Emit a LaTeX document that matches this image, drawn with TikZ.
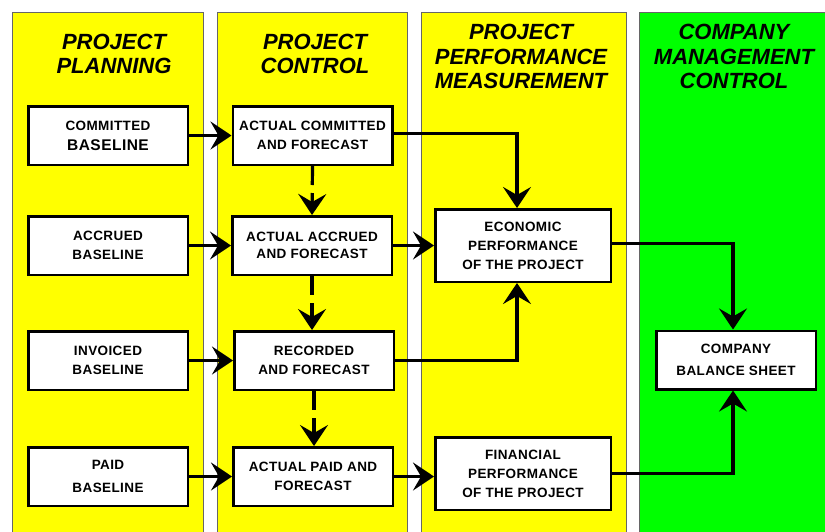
\documentclass[tikz,border=0pt]{standalone}
\usepackage{fontspec}
\setmainfont{Liberation Sans}
\newfontfamily\boxfont[LetterSpace=3]{Liberation Sans}
\usetikzlibrary{arrows.meta}
\definecolor{laneyellow}{RGB}{255,255,0}
\definecolor{lanegreen}{RGB}{0,255,0}
\begin{document}
\begin{tikzpicture}[x=1pt,y=-1pt,
  lane/.style={draw=black!60,line width=0.8pt},
  heading/.style={font=\fontsize{22}{24.5}\selectfont\bfseries\itshape,align=center,inner sep=0pt},
  box/.style={draw=black,line width=2.5pt,fill=white,minimum width=159.5pt,minimum height=58.5pt,
              align=center,inner sep=0pt,font=\boxfont\fontsize{13.5}{19}\selectfont\bfseries},
  widebox/.style={box,minimum width=175.5pt,minimum height=72.5pt},
  flow/.style={line width=3.2pt,-{Stealth[length=21pt,width=28pt,inset=8pt]}},
  dflow/.style={flow,dash pattern=on 19pt off 8pt}]

% page and swim lanes
\clip (0,0) rectangle (825,531);
\fill[white] (0,0) rectangle (825,531);
\filldraw[lane,fill=laneyellow] (12,12) rectangle (203,545);
\filldraw[lane,fill=laneyellow] (217,12) rectangle (407,545);
\filldraw[lane,fill=laneyellow] (421,12) rectangle (626,545);
\filldraw[lane,fill=lanegreen] (639,12) rectangle (840,545);

% lane headings
\node[heading] (h1) at (114,54) {PROJECT\\PLANNING};
\node[heading] (h2) at (315,54) {PROJECT\\CONTROL};
\node[heading] (h3) at (521,56.5) {PROJECT\\PERFORMANCE\\MEASUREMENT};
\node[heading] (h4) at (734,56.5) {COMPANY\\MANAGEMENT\\CONTROL};

% project planning
\node[box] (cb) at (108,135.5) {COMMITTED\\[1pt]{\fontsize{15.5}{19}\selectfont BASELINE}};
\node[box] (ab) at (108,245.5) {ACCRUED\\BASELINE};
\node[box] (ib) at (108,360.5) {INVOICED\\BASELINE};
\node[box,font=\boxfont\fontsize{13.5}{23}\selectfont\bfseries] (pb) at (108,476.5) {PAID\\BASELINE};

% project control
\node[box] (ac) at (312.5,135.5) {ACTUAL COMMITTED\\AND FORECAST};
\node[box,font=\boxfont\fontsize{13.5}{17}\selectfont\bfseries] (aa) at (312,245.5) {ACTUAL ACCRUED\\AND FORECAST};
\node[box] (rf) at (314,360.5) {RECORDED\\AND FORECAST};
\node[box] (ap) at (313,476.5) {ACTUAL PAID AND\\FORECAST};

% performance measurement
\node[widebox] (ep) at (523,245.5) {ECONOMIC\\PERFORMANCE\\OF THE PROJECT};
\node[widebox] (fp) at (523,473.5) {FINANCIAL\\PERFORMANCE\\OF THE PROJECT};

% company management
\node[box,font=\boxfont\fontsize{13.5}{22}\selectfont\bfseries] (bs) at (736,360) {COMPANY\\BALANCE SHEET};

% baselines into control
\draw[flow] (cb) -- (ac);
\draw[flow] (ab) -- (aa);
\draw[flow] (ib) -- (rf);
\draw[flow] (pb) -- (ap);

% control chain
\draw[dflow] (ac.south) -- (aa.north);
\draw[dflow] (aa.south) -- (aa.south |- rf.north);
\draw[dflow] (rf.south) -- (rf.south |- ap.north);

% into performance measurement
\coordinate (epN) at ([xshift=-6pt]ep.north);
\coordinate (epS) at ([xshift=-6pt]ep.south);
\draw[flow] ([yshift=2pt]ac.east) -| (epN);
\draw[flow] (aa) -- (ep);
\draw[flow] (rf.east) -| (epS);
\draw[flow] (ap.east) -- (ap.east -| fp.west);

% into the balance sheet
\coordinate (bsN) at ([xshift=-3pt]bs.north);
\coordinate (bsS) at ([xshift=-3pt]bs.south);
\draw[flow] ([yshift=2pt]ep.east) -| (bsN);
\draw[flow] (fp.east) -| (bsS);
\end{tikzpicture}
\end{document}
